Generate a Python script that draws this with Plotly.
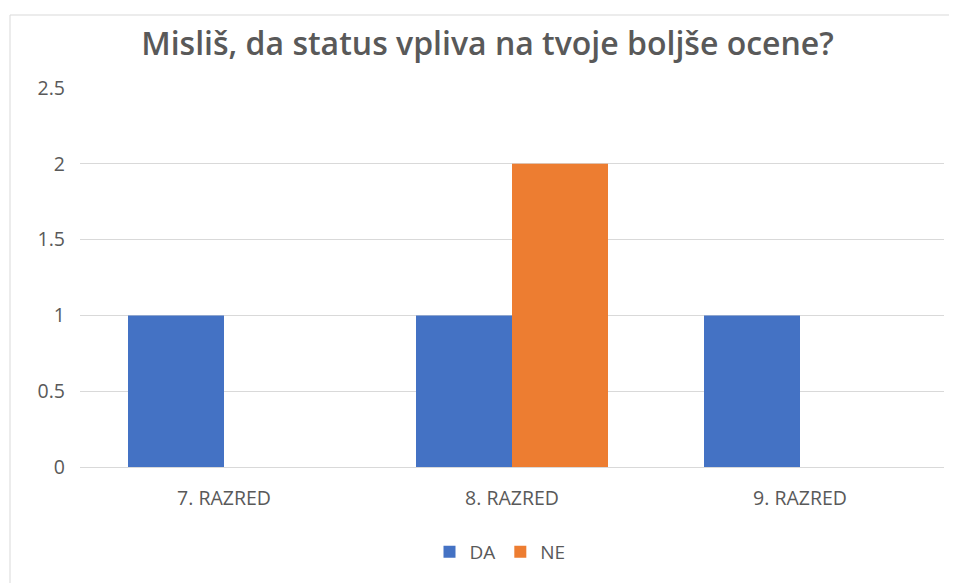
import plotly.graph_objects as go

categories = ["7. RAZRED", "8. RAZRED", "9. RAZRED"]
da_values = [1, 1, 1]
ne_values = [0, 2, 0]
y_ticks = [0, 0.5, 1, 1.5, 2, 2.5]
y_tick_labels = ["0", "0.5", "1", "1.5", "2", "2.5"]

# page is offset by the default 8px body margin
OFF = 8
W, H = 957 - OFF, 583 - OFF
PL, PR, PT, PB = 80, 944, 88, 467          # plot area in page pixels
ml, mr, mt, mb = PL - OFF, 957 - PR, PT - OFF, 583 - PB
pw, ph = PR - PL, PB - PT

def px_x(x):
    return (x - PL) / pw

def px_y(y):
    return (PB - y) / ph

font_family = "'Open Sans', sans-serif"
grey = "#595959"

fig = go.Figure()
fig.add_trace(go.Bar(name="DA", x=categories, y=da_values, marker_color="#4472C4", marker_line_width=0))
fig.add_trace(go.Bar(name="NE", x=categories, y=ne_values, marker_color="#ED7D31", marker_line_width=0))

fig.update_layout(
    width=W, height=H,
    margin=dict(l=ml, r=mr, t=mt, b=mb),
    paper_bgcolor="white", plot_bgcolor="white",
    barmode="group", bargap=1/3, bargroupgap=0,
    title=dict(text="Misliš, da status vpliva na tvoje boljše ocene?",
               x=((137 + 838) / 2 - OFF) / W, xanchor="center",
               y=1 - (44 - OFF) / H, yanchor="middle",
               font=dict(family=font_family, size=32, color=grey, weight=600)),
    font=dict(family=font_family, color=grey, size=19),
    legend=dict(orientation="h", x=px_x(500), xanchor="center",
                y=px_y(552), yanchor="middle",
                font=dict(size=19, color=grey), itemwidth=30, traceorder="normal"),
    showlegend=True,
)
fig.update_yaxes(range=[0, 2.5], tickvals=y_ticks, ticktext=y_tick_labels,
                 showgrid=True, gridcolor="#D9D9D9", gridwidth=1, zeroline=False,
                 showline=False, ticks="", ticklabelstandoff=14,
                 tickfont=dict(size=19.5, color=grey))
fig.update_xaxes(showline=True, linecolor="#D9D9D9", linewidth=1, ticks="",
                 showgrid=False, ticklabelstandoff=14,
                 tickfont=dict(size=19.5, color=grey))

# chart area border (top and left edges visible)
fig.add_shape(type="line", xref="paper", yref="paper",
              x0=px_x(10), x1=px_x(960), y0=px_y(15), y1=px_y(15),
              line=dict(color="#D9D9D9", width=1))
fig.add_shape(type="line", xref="paper", yref="paper",
              x0=px_x(10), x1=px_x(10), y0=px_y(590), y1=px_y(15),
              line=dict(color="#D9D9D9", width=1))

fig.write_html("out.html")
